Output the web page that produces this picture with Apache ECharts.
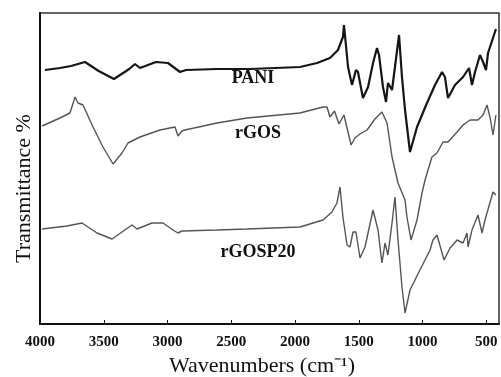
<!DOCTYPE html>
<html>
<head>
<meta charset="utf-8">
<script src="https://cdn.jsdelivr.net/npm/echarts@6/dist/echarts.min.js"></script>
<style>
html,body{margin:0;padding:0;background:#fff;}
#chart{width:501px;height:377px;}
</style>
</head>
<body>
<div id="chart"></div>
<script>
// Wavenumber ticks (cm-1)
var xTickLabels = [4000, 3500, 3000, 2500, 2000, 1500, 1000, 500];

// Series: [wavenumber, transmittance (arbitrary units, offset stacked)]
var pani = [[3961,254],[3843,256],[3757,258],[3647,262],[3540,253],[3420,245],[3300,255],[3255,260],[3216,256],[3090,262],[2996,261],[2902,252],[2855,254],[2612,255],[2353,255],[1961,257],[1827,261],[1726,266],[1663,274],[1624,287],[1616,299],[1584,257],[1553,239],[1522,254],[1506,252],[1467,226],[1427,237],[1388,261],[1357,276],[1341,269],[1310,237],[1286,222],[1271,241],[1239,234],[1216,257],[1184,289],[1161,247],[1137,214],[1098,172],[1043,197],[965,221],[902,239],[847,252],[824,247],[800,226],[745,239],[682,247],[635,256],[612,239],[588,252],[549,269],[525,262],[502,254],[486,271],[424,295]];

var rgos = [[3984,198],[3843,206],[3765,211],[3725,227],[3702,221],[3663,219],[3584,197],[3506,177],[3427,160],[3357,171],[3310,181],[3216,187],[3059,194],[2941,197],[2918,188],[2886,193],[2863,194],[2612,201],[2376,206],[1961,211],[1780,217],[1749,217],[1726,207],[1690,213],[1655,200],[1616,209],[1560,179],[1530,186],[1490,190],[1435,194],[1373,205],[1318,212],[1278,201],[1239,167],[1192,141],[1137,124],[1122,107],[1090,84],[1043,104],[1004,131],[980,144],[926,167],[886,171],[839,182],[800,182],[729,192],[682,199],[627,204],[565,204],[525,209],[494,219],[471,207],[447,189],[424,209]];

var rgosp20 = [[3984,95],[3788,98],[3671,101],[3553,91],[3435,85],[3357,92],[3278,99],[3239,95],[3122,101],[3035,101],[2957,94],[2918,91],[2886,93],[2612,94],[2376,95],[1961,97],[1780,104],[1710,112],[1671,121],[1647,137],[1624,107],[1592,79],[1569,77],[1545,92],[1522,92],[1490,66],[1451,77],[1388,114],[1349,94],[1318,61],[1294,81],[1271,69],[1239,101],[1216,127],[1192,84],[1161,37],[1137,11],[1098,34],[1020,54],[941,74],[918,84],[886,89],[871,91],[831,64],[784,76],[729,84],[682,81],[651,91],[643,77],[612,94],[565,109],[533,91],[510,104],[447,132],[424,129]];

var seriesNames = ['PANI', 'rGOS', 'rGOSP20'];

var chart = echarts.init(document.getElementById('chart'), null, {renderer: 'canvas'});
var serif = '"Liberation Serif", "Times New Roman", serif';

chart.setOption({
  animation: false,
  backgroundColor: '#fff',
  grid: {left: 40, right: 2, top: 13, bottom: 53, containLabel: false, outerBoundsMode: 'none', show: true, borderColor: '#333', borderWidth: 1.5},
  xAxis: {
    type: 'value', inverse: true, min: 400, max: 4000,
    name: 'Wavenumbers (cm\u207B\u00B9)', nameLocation: 'middle', nameGap: 26,
    nameTextStyle: {fontFamily: serif, fontSize: 22, color: '#111', padding: [0, 15, 0, 0]},
    axisLine: {show: true, lineStyle: {color: '#111', width: 2}},
    axisTick: {show: true, inside: true, length: 4, customValues: xTickLabels, lineStyle: {color: '#111', width: 1}},
    axisLabel: {customValues: xTickLabels, formatter: function (v) { return String(v); }, fontFamily: serif, fontWeight: 'bold', fontSize: 15, color: '#111', margin: 11},
    splitLine: {show: false}
  },
  yAxis: {
    type: 'value', min: 0, max: 311,
    name: 'Transmittance %', nameLocation: 'middle', nameGap: 5, nameRotate: 90,
    nameTextStyle: {fontFamily: serif, fontSize: 22, color: '#111', padding: [0, 40, 0, 0]},
    axisLine: {show: true, lineStyle: {color: '#111', width: 2}},
    axisTick: {show: false},
    axisLabel: {show: false},
    splitLine: {show: false}
  },
  series: [
    {name: seriesNames[0], type: 'line', data: pani, symbol: 'none', lineStyle: {color: '#151515', width: 2.2}},
    {name: seriesNames[1], type: 'line', data: rgos, symbol: 'none', lineStyle: {color: '#555', width: 1.4}},
    {name: seriesNames[2], type: 'line', data: rgosp20, symbol: 'none', lineStyle: {color: '#555', width: 1.4}}
  ],
  graphic: [
    {type: 'text', x: 253, y: 78, style: {text: seriesNames[0], font: 'bold 18px ' + serif, fill: '#111', textAlign: 'center', textVerticalAlign: 'middle'}},
    {type: 'text', x: 258, y: 133, style: {text: seriesNames[1], font: 'bold 18px ' + serif, fill: '#111', textAlign: 'center', textVerticalAlign: 'middle'}},
    {type: 'text', x: 258, y: 252, style: {text: seriesNames[2], font: 'bold 18px ' + serif, fill: '#111', textAlign: 'center', textVerticalAlign: 'middle'}}
  ]
});
</script>
</body>
</html>
